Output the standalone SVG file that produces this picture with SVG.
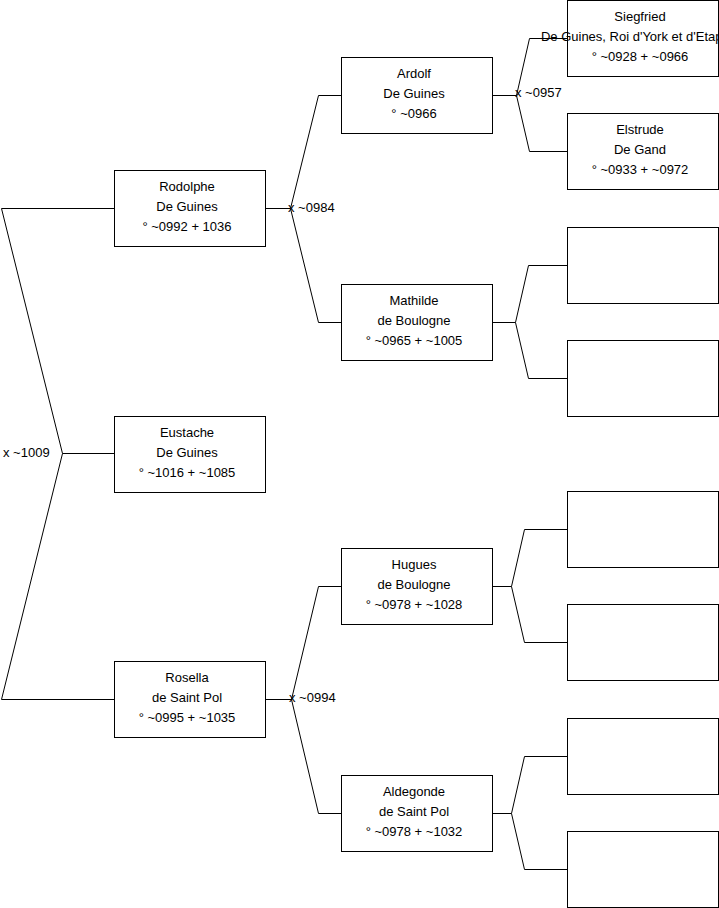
<svg xmlns="http://www.w3.org/2000/svg" width="719" height="908" viewBox="0 0 719 908">
<style>
.box{fill:#fff;stroke:#000;stroke-width:1}
.t{font-family:"Liberation Sans",Arial,sans-serif;font-size:13px;fill:#000;text-anchor:middle}
.l{font-family:"Liberation Sans",Arial,sans-serif;font-size:13px;fill:#000}
.c{fill:none;stroke:#000;stroke-width:1}
</style>
<rect width="719" height="908" fill="#fff"/>
<g id="connectors">
<polyline class="c" points="114,208.5 1.5,208.5 62.5,453.5 1.5,699.5 114,699.5"/>
<line class="c" x1="62.5" y1="453.5" x2="114" y2="453.5"/>
<polyline class="c" points="265,208.5 290.5,208.5 318.5,95.5 341,95.5"/>
<polyline class="c" points="290.5,208.5 318.5,322.5 341,322.5"/>
<polyline class="c" points="492,95.5 516.5,95.5 529.5,38.5 567,38.5"/>
<polyline class="c" points="516.5,95.5 529.5,151.5 567,151.5"/>
<polyline class="c" points="492,322.5 515.5,322.5 528.5,265.5 567,265.5"/>
<polyline class="c" points="515.5,322.5 528.5,378.5 567,378.5"/>
<polyline class="c" points="265,699.5 291.5,699.5 318.5,586.5 341,586.5"/>
<polyline class="c" points="291.5,699.5 318.5,813.5 341,813.5"/>
<polyline class="c" points="492,586.5 511.5,586.5 524.5,529.5 567,529.5"/>
<polyline class="c" points="511.5,586.5 524.5,642.5 567,642.5"/>
<polyline class="c" points="492,813.5 511.5,813.5 524.5,756.5 567,756.5"/>
<polyline class="c" points="511.5,813.5 524.5,869.5 567,869.5"/>
<text class="l" x="3" y="457">x ~1009</text>
<text class="l" x="288" y="212">x ~0984</text>
<text class="l" x="289" y="702">x ~0994</text>
<text class="l" x="515" y="97">x ~0957</text>
</g>
<g id="rodolphe"><rect class="box" x="114.5" y="170.5" width="151" height="76"/>
<text class="t" x="187" y="191">Rodolphe</text><text class="t" x="187" y="211">De Guines</text><text class="t" x="187" y="231">° ~0992 + 1036</text></g>
<g id="eustache"><rect class="box" x="114.5" y="416.5" width="151" height="76"/>
<text class="t" x="187" y="437">Eustache</text><text class="t" x="187" y="457">De Guines</text><text class="t" x="187" y="477">° ~1016 + ~1085</text></g>
<g id="rosella"><rect class="box" x="114.5" y="661.5" width="151" height="76"/>
<text class="t" x="187" y="682">Rosella</text><text class="t" x="187" y="702">de Saint Pol</text><text class="t" x="187" y="722">° ~0995 + ~1035</text></g>
<g id="ardolf"><rect class="box" x="341.5" y="57.5" width="151" height="76"/>
<text class="t" x="414" y="78">Ardolf</text><text class="t" x="414" y="98">De Guines</text><text class="t" x="414" y="118">° ~0966</text></g>
<g id="mathilde"><rect class="box" x="341.5" y="284.5" width="151" height="76"/>
<text class="t" x="414" y="305">Mathilde</text><text class="t" x="414" y="325">de Boulogne</text><text class="t" x="414" y="345">° ~0965 + ~1005</text></g>
<g id="hugues"><rect class="box" x="341.5" y="548.5" width="151" height="76"/>
<text class="t" x="414" y="569">Hugues</text><text class="t" x="414" y="589">de Boulogne</text><text class="t" x="414" y="609">° ~0978 + ~1028</text></g>
<g id="aldegonde"><rect class="box" x="341.5" y="775.5" width="151" height="76"/>
<text class="t" x="414" y="796">Aldegonde</text><text class="t" x="414" y="816">de Saint Pol</text><text class="t" x="414" y="836">° ~0978 + ~1032</text></g>
<g id="siegfried"><rect class="box" x="567.5" y="0.5" width="151" height="76"/>
<text class="t" x="640" y="21">Siegfried</text><text class="t" x="640" y="41">De Guines, Roi d'York et d'Etaples</text><text class="t" x="640" y="61">° ~0928 + ~0966</text></g>
<g id="elstrude"><rect class="box" x="567.5" y="113.5" width="151" height="76"/>
<text class="t" x="640" y="134">Elstrude</text><text class="t" x="640" y="154">De Gand</text><text class="t" x="640" y="174">° ~0933 + ~0972</text></g>
<g id="empty1"><rect class="box" x="567.5" y="227.5" width="151" height="76"/></g>
<g id="empty2"><rect class="box" x="567.5" y="340.5" width="151" height="76"/></g>
<g id="empty3"><rect class="box" x="567.5" y="491.5" width="151" height="76"/></g>
<g id="empty4"><rect class="box" x="567.5" y="604.5" width="151" height="76"/></g>
<g id="empty5"><rect class="box" x="567.5" y="718.5" width="151" height="76"/></g>
<g id="empty6"><rect class="box" x="567.5" y="831.5" width="151" height="76"/></g>
</svg>
